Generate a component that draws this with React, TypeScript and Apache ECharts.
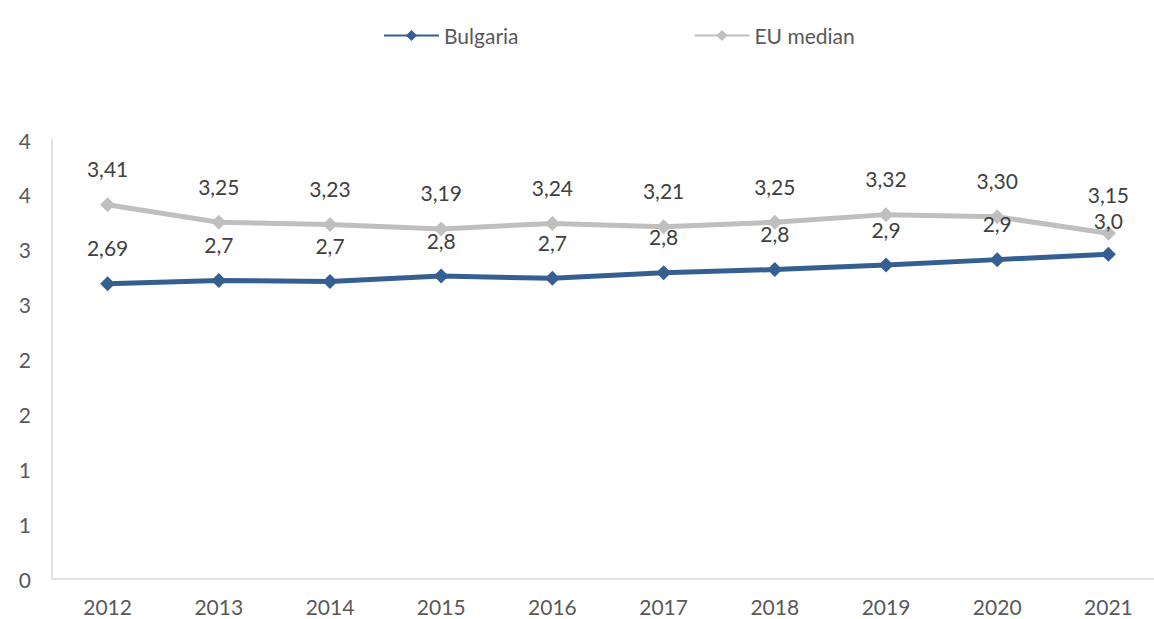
import React, { useEffect, useRef } from "react";
import * as echarts from "echarts";

const years = ["2012", "2013", "2014", "2015", "2016", "2017", "2018", "2019", "2020", "2021"];
const bulgaria = [2.69, 2.72, 2.71, 2.76, 2.74, 2.79, 2.82, 2.86, 2.91, 2.96];
const bulgariaLabels = ["2,69", "2,7", "2,7", "2,8", "2,7", "2,8", "2,8", "2,9", "2,9", "3,0"];
const euMedian = [3.41, 3.25, 3.23, 3.19, 3.24, 3.21, 3.25, 3.32, 3.3, 3.15];
const euLabels = ["3,41", "3,25", "3,23", "3,19", "3,24", "3,21", "3,25", "3,32", "3,30", "3,15"];

const FONT = "Lato";

export default function App() {
  const ref = useRef<HTMLDivElement>(null);
  useEffect(() => {
    if (!ref.current) return;
    const chart = echarts.init(ref.current, null, { renderer: "svg" });
    const labelStyle = {
      show: true,
      position: "top" as const,
      distance: 19,
      fontSize: 21,
      lineHeight: 19,
      color: "#404040",
      fontFamily: FONT,
    };
    const lastIndex = years.length - 1;
    chart.setOption({
      animation: false,
      backgroundColor: "#ffffff",
      textStyle: { fontFamily: FONT },
      legend: {
        left: 383,
        top: 25,
        padding: 0,
        itemWidth: 55,
        itemHeight: 14,
        itemGap: 175,
        textStyle: { fontSize: 21, color: "#595959", fontFamily: FONT },
        data: ["Bulgaria", "EU median"],
      },
      grid: {
        left: 52,
        top: 140,
        width: 1112,
        height: 439,
        containLabel: false,
        outerBoundsMode: "none",
      },
      xAxis: {
        type: "category",
        data: years,
        boundaryGap: true,
        axisLine: { show: true, lineStyle: { color: "#D9D9D9", width: 1.5 } },
        axisTick: { show: false },
        axisLabel: { fontSize: 21, color: "#595959", margin: 17, fontFamily: FONT },
        splitLine: { show: false },
      },
      yAxis: {
        type: "value",
        min: 0,
        max: 4,
        interval: 0.5,
        axisLine: { show: true, lineStyle: { color: "#D9D9D9", width: 1.5 } },
        axisTick: { show: false },
        splitLine: { show: false },
        axisLabel: {
          fontSize: 21,
          color: "#595959",
          margin: 21,
          fontFamily: FONT,
          formatter: (v: number) => String(Math.round(v)),
        },
      },
      series: [
        {
          name: "Bulgaria",
          type: "line",
          data: bulgaria,
          symbol: "diamond",
          symbolSize: 15,
          color: "#365F91",
          lineStyle: { width: 5, color: "#365F91" },
          itemStyle: { color: "#365F91" },
          label: { ...labelStyle, formatter: (p: any) => bulgariaLabels[p.dataIndex] },
          labelLayout: (p: any) => (p.dataIndex === lastIndex ? { dy: 2 } : {}),
          z: 3,
        },
        {
          name: "EU median",
          type: "line",
          data: euMedian,
          symbol: "diamond",
          symbolSize: 15,
          color: "#BFBFBF",
          lineStyle: { width: 5, color: "#BFBFBF" },
          itemStyle: { color: "#BFBFBF" },
          label: { ...labelStyle, formatter: (p: any) => euLabels[p.dataIndex] },
          labelLayout: (p: any) => (p.dataIndex === lastIndex ? { dy: -3 } : {}),
          z: 2,
        },
      ],
    });
    return () => chart.dispose();
  }, []);
  return (
    <div
      ref={ref}
      style={{ position: "fixed", left: 0, top: 0, width: 1154, height: 619, background: "#fff" }}
    />
  );
}
